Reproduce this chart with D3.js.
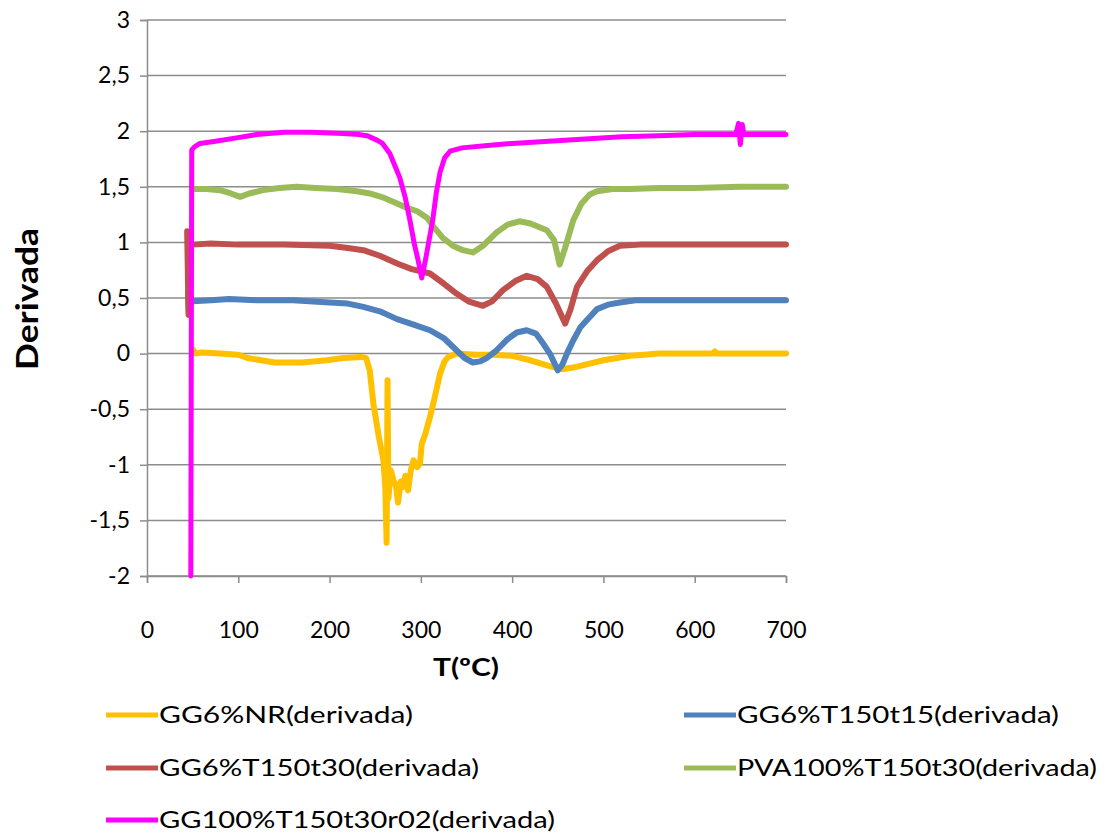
<!DOCTYPE html>
<html>
<head>
<meta charset="utf-8">
<script src="https://cdn.jsdelivr.net/npm/d3@7"></script>
<style>
  html, body { margin: 0; padding: 0; background: #fff; }
  svg { display: block; }
  text { font-family: Lato, "Open Sans", sans-serif; fill: #000; }
</style>
</head>
<body>
<svg id="chart" width="1112" height="834"></svg>
<script>
// Axis ticks
const xTicks = [0, 100, 200, 300, 400, 500, 600, 700];
const yTicks = [3, 2.5, 2, 1.5, 1, 0.5, 0, -0.5, -1, -1.5, -2];

// Series names and colours (legend order)
const seriesNames = [
  "GG6%NR(derivada)",
  "GG6%T150t15(derivada)",
  "GG6%T150t30(derivada)",
  "PVA100%T150t30(derivada)",
  "GG100%T150t30r02(derivada)"
];
const seriesColors = ["#FFC000", "#4F81BD", "#C0504D", "#9BBB59", "#FF00FF"];

// Derivative curves, [T (°C), derivative]
const gg6NR = [
  [50, 0.04], [53, 0.0], [60, 0.01], [80, 0.0], [100, -0.01], [110, -0.04], [125, -0.06],
  [140, -0.08], [170, -0.08], [197, -0.06], [215, -0.04], [235, -0.03], [240, -0.04],
  [244, -0.15], [248, -0.45], [254, -0.75], [259, -0.96], [261, -1.2], [262.5, -1.7],
  [263.5, -0.24], [264.5, -1.3], [267, -1.05], [270, -1.14], [273, -1.2], [275, -1.34],
  [278, -1.15], [280, -1.2], [283, -1.1], [286, -1.23], [289, -1.05], [292, -0.96],
  [296, -1.02], [299, -0.99], [301, -0.81], [305, -0.72], [310, -0.57], [315, -0.4],
  [321, -0.18], [326, -0.07], [330, -0.03], [339, 0.0], [360, -0.01], [380, -0.01],
  [400, -0.02], [420, -0.06], [440, -0.11], [455, -0.14], [470, -0.12], [485, -0.09],
  [500, -0.06], [515, -0.04], [529, -0.02], [545, -0.01], [560, 0.0], [620, 0.0],
  [622, 0.02], [624, 0.0], [700, 0.0]
];
const gg6T15 = [
  [45, 0.55], [46, 0.35], [47, 0.5], [50, 0.47], [70, 0.48], [90, 0.49], [120, 0.48],
  [160, 0.48], [200, 0.46], [220, 0.45], [237, 0.42], [255, 0.38], [274, 0.31],
  [292, 0.26], [310, 0.21], [325, 0.14], [339, 0.03], [348, -0.04], [357, -0.08],
  [365, -0.07], [372, -0.04], [383, 0.03], [395, 0.13], [405, 0.19], [416, 0.21],
  [426, 0.18], [434, 0.09], [442, -0.01], [450, -0.15], [455, -0.1], [460, 0.0],
  [467, 0.12], [475, 0.24], [485, 0.33], [493, 0.4], [505, 0.44], [518, 0.46],
  [535, 0.48], [560, 0.48], [600, 0.48], [650, 0.48], [700, 0.48]
];
const gg6T30 = [
  [44, 1.1], [45.5, 0.35], [47, 0.98], [50, 0.98], [70, 0.99], [100, 0.98], [150, 0.98],
  [200, 0.97], [220, 0.95], [237, 0.93], [255, 0.88], [274, 0.81], [290, 0.76],
  [310, 0.72], [325, 0.63], [339, 0.54], [352, 0.47], [368, 0.43], [378, 0.47],
  [390, 0.57], [403, 0.65], [416, 0.7], [428, 0.67], [438, 0.6], [448, 0.45],
  [458, 0.27], [464, 0.4], [471, 0.6], [482, 0.74], [493, 0.84], [505, 0.92],
  [518, 0.97], [540, 0.98], [600, 0.98], [700, 0.98]
];
const pva100T30 = [
  [50, 1.48], [65, 1.48], [80, 1.47], [92, 1.44], [102, 1.41], [112, 1.44], [127, 1.47],
  [145, 1.49], [164, 1.5], [185, 1.49], [208, 1.48], [230, 1.46], [244, 1.44],
  [260, 1.4], [274, 1.35], [285, 1.31], [296, 1.28], [307, 1.22], [315, 1.13],
  [324, 1.04], [335, 0.97], [346, 0.93], [357, 0.91], [368, 0.97], [383, 1.09],
  [395, 1.16], [408, 1.19], [420, 1.17], [438, 1.11], [446, 1.02], [452, 0.8],
  [458, 0.95], [467, 1.2], [476, 1.35], [485, 1.43], [493, 1.46], [510, 1.48],
  [529, 1.48], [560, 1.49], [600, 1.49], [650, 1.5], [700, 1.5]
];
const gg100T30r02 = [
  [48, -2.0], [49, 1.83], [52, 1.86], [58, 1.89], [75, 1.91], [98, 1.94], [120, 1.97],
  [150, 1.99], [180, 1.99], [215, 1.98], [232, 1.97], [241, 1.96], [252, 1.92],
  [258, 1.89], [266, 1.8], [272, 1.68], [277, 1.58], [283, 1.4], [288, 1.2],
  [293, 0.98], [297, 0.84], [301, 0.68], [305, 0.84], [309, 1.02], [313, 1.2],
  [317, 1.45], [321, 1.63], [326, 1.76], [332, 1.82], [345, 1.85], [370, 1.87],
  [400, 1.89], [440, 1.91], [480, 1.93], [520, 1.95], [560, 1.96], [600, 1.97],
  [645, 1.97], [648, 2.07], [650, 1.88], [652, 2.06], [654, 1.97], [700, 1.97]
];
const seriesData = [gg6NR, gg6T15, gg6T30, pva100T30, gg100T30r02];

const svg = d3.select("#chart");

const x = d3.scaleLinear().domain([0, 700]).range([147, 786]);
const y = d3.scaleLinear().domain([-2, 3]).range([576, 20]);

const gridColor = "#8c8c8c";

// Horizontal gridlines
svg.append("g")
  .selectAll("line")
  .data(yTicks)
  .join("line")
  .attr("x1", x(0)).attr("x2", x(700))
  .attr("y1", d => y(d)).attr("y2", d => y(d))
  .attr("stroke", gridColor)
  .attr("stroke-width", 1.5);

const fmt = d => String(d).replace(".", ",");

// Y axis
const yAxis = svg.append("g")
  .attr("transform", `translate(${x(0)},0)`)
  .call(d3.axisLeft(y).tickValues(yTicks).tickSize(7).tickPadding(10).tickFormat(fmt));
yAxis.select(".domain").attr("stroke", gridColor).attr("stroke-width", 1.5);
yAxis.selectAll(".tick line").attr("stroke", gridColor).attr("stroke-width", 1.5);
yAxis.selectAll(".tick text")
  .style("font-family", "Lato, sans-serif").style("font-size", "23px").attr("fill", "#000");

// X axis
const xAxis = svg.append("g")
  .attr("transform", `translate(0,${y(-2)})`)
  .call(d3.axisBottom(x).tickValues(xTicks).tickSize(7).tickPadding(39).tickFormat(d3.format("d")));
xAxis.select(".domain").attr("stroke", gridColor).attr("stroke-width", 1.5);
xAxis.selectAll(".tick line").attr("stroke", gridColor).attr("stroke-width", 1.5);
xAxis.selectAll(".tick text")
  .style("font-family", "Lato, sans-serif").style("font-size", "23px").attr("fill", "#000");

// Axis titles
svg.append("text")
  .attr("transform", "translate(38,299) rotate(-90)")
  .attr("text-anchor", "middle")
  .attr("textLength", 142).attr("lengthAdjust", "spacingAndGlyphs")
  .style("font-size", "31px").style("font-weight", "bold")
  .text("Derivada");

svg.append("text")
  .attr("x", 466).attr("y", 676)
  .attr("text-anchor", "middle")
  .attr("textLength", 66).attr("lengthAdjust", "spacingAndGlyphs")
  .style("font-size", "25px").style("font-weight", "bold")
  .text("T(ºC)");

// Curves
const line = d3.line().x(d => x(d[0])).y(d => y(d[1]));
svg.append("g")
  .selectAll("path")
  .data(seriesData)
  .join("path")
  .attr("d", line)
  .attr("fill", "none")
  .attr("stroke", (d, i) => seriesColors[i])
  .attr("stroke-width", (d, i) => i === 4 ? 5 : 6)
  .attr("stroke-linejoin", "round")
  .attr("stroke-linecap", "round");

// Legend (two columns, row-wise)
const legendCols = [106, 684];
const legendRows = [715, 768, 820];
const legendWidths = [254, 322, 320, 360, 396];
const legend = svg.append("g")
  .selectAll("g")
  .data(seriesNames)
  .join("g")
  .attr("transform", (d, i) => `translate(${legendCols[i % 2]},${legendRows[Math.floor(i / 2)]})`);
legend.append("line")
  .attr("x1", 0).attr("x2", 52)
  .attr("y1", 0).attr("y2", 0)
  .attr("stroke", (d, i) => seriesColors[i])
  .attr("stroke-width", 5);
legend.append("text")
  .attr("x", 53).attr("y", 8)
  .attr("textLength", (d, i) => legendWidths[i]).attr("lengthAdjust", "spacingAndGlyphs")
  .style("font-size", "24px")
  .text(d => d);
</script>
</body>
</html>
